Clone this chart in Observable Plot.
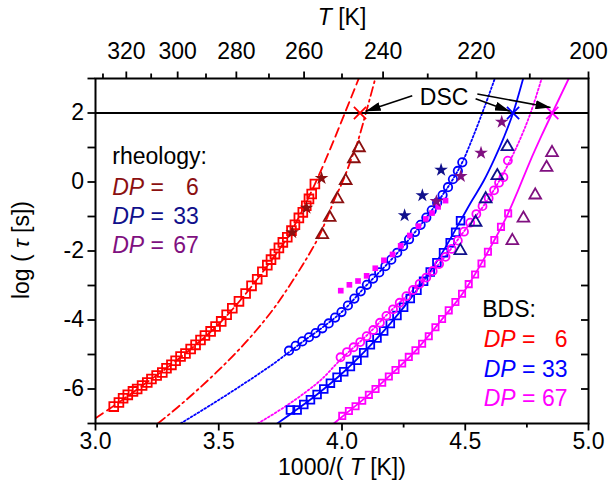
<!DOCTYPE html>
<html><head><meta charset="utf-8">
<script src="https://cdn.jsdelivr.net/npm/d3@7"></script>
<script src="https://cdn.jsdelivr.net/npm/@observablehq/plot@0.6"></script>
<style>body{margin:0;background:#fff;}</style>
</head><body><div id="chart"></div>
<script>
// ---- axis ticks ----
const xMajor = [3.0, 3.5, 4.0, 4.5, 5.0];
const xMinor = [3.25, 3.75, 4.25, 4.75];
const yMajor = [-6, -4, -2, 0, 2];
const yMinor = [-7, -5, -3, -1, 1, 3];
const yRight = [-6, -5, -4, -3, -2, -1, 0, 1, 2];
const tMajor = [320, 300, 280, 260, 240, 220, 200];
const tMinor = [330, 310, 290, 270, 250, 230, 210];

// ---- BDS data [1000/T, log tau] ----
const bds6Squares = [[3.074,-6.51],[3.095,-6.39],[3.112,-6.27],[3.131,-6.17],[3.152,-6.07],[3.169,-6.00],[3.189,-5.90],[3.210,-5.81],[3.227,-5.71],[3.248,-5.61],[3.271,-5.52],[3.288,-5.40],[3.308,-5.30],[3.325,-5.18],[3.345,-5.06],[3.365,-4.97],[3.386,-4.84],[3.406,-4.72],[3.426,-4.58],[3.444,-4.45],[3.467,-4.33],[3.487,-4.19],[3.510,-4.04],[3.532,-3.85],[3.555,-3.66],[3.582,-3.46],[3.609,-3.23],[3.633,-3.01],[3.656,-2.82],[3.677,-2.60],[3.697,-2.41],[3.712,-2.25],[3.728,-2.09],[3.744,-1.91],[3.760,-1.75],[3.778,-1.60],[3.795,-1.41],[3.809,-1.24],[3.825,-1.04],[3.841,-0.88],[3.855,-0.69],[3.866,-0.49],[3.877,-0.35],[3.890,-0.06]];
const bds33Circles = [[3.785,-4.89],[3.812,-4.75],[3.839,-4.62],[3.866,-4.50],[3.893,-4.38],[3.920,-4.24],[3.946,-4.10],[3.972,-3.93],[3.998,-3.77],[4.024,-3.58],[4.050,-3.38],[4.076,-3.17],[4.101,-2.98],[4.126,-2.80],[4.151,-2.62],[4.176,-2.44],[4.200,-2.25],[4.224,-2.05],[4.248,-1.86],[4.272,-1.66],[4.296,-1.45],[4.319,-1.24],[4.342,-1.03],[4.364,-0.82],[4.386,-0.60],[4.408,-0.38],[4.430,-0.15],[4.450,0.08],[4.470,0.32],[4.488,0.57]];
const bds33Squares = [[3.791,-6.61],[3.818,-6.61],[3.845,-6.45],[3.872,-6.31],[3.899,-6.16],[3.926,-6.00],[3.953,-5.83],[3.980,-5.66],[4.007,-5.50],[4.034,-5.35],[4.061,-5.17],[4.088,-4.95],[4.115,-4.72],[4.142,-4.52],[4.169,-4.32],[4.196,-4.10],[4.223,-3.87],[4.250,-3.63],[4.277,-3.38],[4.304,-3.14],[4.331,-2.88],[4.358,-2.61],[4.385,-2.34],[4.412,-2.05],[4.439,-1.76],[4.461,-1.46],[4.481,-1.12]];
const bds67Circles = [[3.994,-5.08],[4.020,-4.93],[4.047,-4.79],[4.074,-4.64],[4.100,-4.47],[4.127,-4.29],[4.154,-4.08],[4.180,-3.88],[4.207,-3.69],[4.234,-3.50],[4.261,-3.31],[4.288,-3.13],[4.315,-2.95],[4.342,-2.77],[4.368,-2.58],[4.394,-2.38],[4.420,-2.17],[4.445,-1.94],[4.470,-1.70],[4.495,-1.44],[4.520,-1.18],[4.545,-0.93],[4.570,-0.70],[4.595,-0.47],[4.617,-0.24],[4.637,-0.02],[4.655,0.14],[4.673,0.62]];
const bds67Squares = [[4.001,-6.78],[4.028,-6.64],[4.055,-6.50],[4.082,-6.34],[4.109,-6.17],[4.136,-6.00],[4.163,-5.82],[4.190,-5.64],[4.217,-5.45],[4.244,-5.26],[4.271,-5.07],[4.298,-4.88],[4.325,-4.69],[4.352,-4.47],[4.379,-4.21],[4.406,-3.97],[4.433,-3.72],[4.460,-3.48],[4.487,-3.24],[4.514,-2.96],[4.540,-2.68],[4.566,-2.36],[4.592,-2.02],[4.618,-1.68],[4.645,-1.30],[4.674,-0.91]];
const bds67Filled = [[3.995,-3.15],[4.030,-2.98],[4.065,-2.87],[4.100,-2.72],[4.135,-2.50],[4.170,-2.27],[4.205,-2.10],[4.238,-1.85],[4.275,-1.55],[4.310,-1.28],[4.340,-1.07],[4.365,-0.90],[4.390,-0.72],[4.420,-0.54]];

// ---- fit curves ----
const fit6Dashed = [[3.0,-6.85],[3.1,-6.36],[3.2,-5.85],[3.3,-5.33],[3.4,-4.76],[3.5,-4.12],[3.6,-3.32],[3.7,-2.40],[3.8,-1.35],[3.89,-0.06],[3.95,0.92],[4.01,1.97],[4.068,3.0]];
const fit6DashDot = [[3.253,-7.0],[3.33,-6.55],[3.41,-6.05],[3.49,-5.52],[3.57,-4.95],[3.65,-4.32],[3.73,-3.60],[3.81,-2.75],[3.87,-2.05],[3.91,-1.53],[3.94,-1.03],[3.97,-0.50],[4.005,0.05],[4.038,0.67],[4.065,1.20],[4.095,1.95],[4.135,3.0]];
const fit33Dotted = [[3.345,-7.0],[3.45,-6.54],[3.55,-6.09],[3.65,-5.62],[3.72,-5.28],[3.78,-4.96],[3.85,-4.58],[3.92,-4.22],[4.0,-3.76],[4.1,-2.99],[4.2,-2.25],[4.3,-1.42],[4.4,-0.46],[4.45,0.08],[4.49,0.60],[4.53,1.28],[4.569,2.0],[4.62,3.0]];
const fit33Solid = [[3.737,-7.0],[3.8,-6.68],[3.9,-6.15],[4.0,-5.55],[4.1,-4.85],[4.2,-4.07],[4.3,-3.17],[4.4,-2.13],[4.481,-1.12],[4.522,-0.60],[4.576,0.05],[4.617,0.65],[4.657,1.30],[4.694,2.0],[4.735,3.0]];
const fit67Dotted = [[3.658,-7.0],[3.75,-6.60],[3.832,-6.20],[3.92,-5.70],[3.994,-5.15],[4.1,-4.45],[4.2,-3.72],[4.3,-3.05],[4.4,-2.32],[4.5,-1.38],[4.6,-0.42],[4.673,0.50],[4.72,1.20],[4.765,2.0],[4.81,3.0]];
const fit67Solid = [[3.967,-7.0],[4.001,-6.80],[4.1,-6.22],[4.2,-5.57],[4.3,-4.88],[4.4,-4.03],[4.5,-3.12],[4.6,-1.92],[4.674,-0.91],[4.711,-0.30],[4.76,0.55],[4.81,1.35],[4.853,2.0],[4.92,3.0]];

// ---- rheology data ----
const rheo6Stars = [[3.798,-1.46],[3.856,-0.75],[3.917,0.11]];
const rheo6Triangles = [[3.920,-1.53],[3.950,-1.03],[3.981,-0.49],[4.015,0.04],[4.048,0.67],[4.069,0.99]];
const rheo33Stars = [[4.254,-0.97],[4.326,-0.39],[4.402,0.35]];
const rheo33Triangles = [[4.480,-1.99],[4.542,-1.17],[4.583,-0.49],[4.630,0.18],[4.671,1.02]];
const rheo67Stars = [[4.383,-0.56],[4.482,0.17],[4.564,0.84],[4.648,1.74]];
const rheo67Triangles = [[4.691,-1.70],[4.736,-1.05],[4.784,-0.38],[4.830,0.42],[4.852,0.85]];

// ---- DSC ----
const dscX = [4.073, 4.694, 4.853];
const dscY = [2, 2, 2];
const dscColors = ["#ff0000", "#0000ff", "#ff00ff"];
const dscLabel = {text: "DSC", x: 4.414, y: 2.455};
const dscArrows = [
  {x1: 4.285, y1: 2.50, x2: 4.096, y2: 2.05},
  {x1: 4.542, y1: 2.41, x2: 4.681, y2: 2.05},
  {x1: 4.549, y1: 2.55, x2: 4.846, y2: 2.16}
];

// ---- legends ----
const rheoTitle = {text: "rheology:", x: 3.068, y: 0.733};
const rheoDP = ["6", "33", "67"];
const rheoColors = ["#8b1010", "#10108b", "#801080"];
const rheoY = [-0.154, -1.003, -1.843];
const rheoX = [3.068, 3.419];
const bdsTitle = {text: "BDS:", x: 4.569, y: -3.71};
const bdsDP = ["6", "33", "67"];
const bdsColors = ["#ff0000", "#0000ff", "#ff00ff"];
const bdsY = [-4.58, -5.43, -6.27];
const bdsX = [4.575, 4.915];

const rows = (pairs) => pairs.map(([x, y]) => ({x, y}));
const FS = 23;
const SW = 1.8;
const frameW = 608 - 95 - 20, frameH = 491 - 78 - 68;

const lineMark = (d, stroke, dash) => Plot.line(rows(d), {x: "x", y: "y", stroke, strokeWidth: 1.8, strokeDasharray: dash, curve: "monotone-x", clip: true});
const openDot = (d, symbol, stroke, r) => Plot.dot(rows(d), {x: "x", y: "y", symbol, stroke, fill: "none", strokeWidth: SW, r});
const filledDot = (d, symbol, fill, r) => Plot.dot(rows(d), {x: "x", y: "y", symbol, fill, stroke: "none", r});

const legendRows = (labels, colors, ys, xs) => labels.map((n, i) => ({n, c: colors[i], y: ys[i], x0: xs[0], x1: xs[1]}));
const rheoRows = legendRows(rheoDP, rheoColors, rheoY, rheoX);
const bdsRows = legendRows(bdsDP, bdsColors, bdsY, bdsX);

const chart = Plot.plot({
  width: 608, height: 491,
  marginLeft: 95, marginRight: 20, marginTop: 78, marginBottom: 68,
  x: {domain: [3, 5], axis: null},
  y: {domain: [-7, 3], axis: null},
  style: {fontFamily: "'Liberation Sans', Arial, sans-serif", fontSize: FS + "px", background: "#fff", color: "#000", overflow: "visible"},
  marks: [
    lineMark(fit6Dashed, "#ff0000", "9,5"),
    lineMark(fit6DashDot, "#ff0000", "9,4,2,4"),
    lineMark(fit33Dotted, "#0000ff", "1.8,2.2"),
    lineMark(fit33Solid, "#0000ff", null),
    lineMark(fit67Dotted, "#ff00ff", "1.8,2.2"),
    lineMark(fit67Solid, "#ff00ff", null),
    openDot(bds6Squares, "square2", "#ff0000", 5.6),
    openDot(bds33Circles, "circle", "#0000ff", 4.2),
    openDot(bds33Squares, "square2", "#0000ff", 4.9),
    openDot(bds67Circles, "circle", "#ff00ff", 4.0),
    openDot(bds67Squares, "square2", "#ff00ff", 4.0),
    filledDot(bds67Filled, "square", "#ff00ff", 3.2),
    filledDot(rheo6Stars, "star", "#8b1010", 4.3),
    openDot(rheo6Triangles, "triangle2", "#8b1010", 5.6),
    filledDot(rheo33Stars, "star", "#10108b", 4.3),
    openDot(rheo33Triangles, "triangle2", "#10108b", 5.6),
    filledDot(rheo67Stars, "star", "#801080", 4.3),
    openDot(rheo67Triangles, "triangle2", "#801080", 5.6),
    Plot.ruleY([2], {stroke: "#000", strokeWidth: 1.8}),
    ...dscX.map((x, i) => Plot.dot([{x, y: dscY[i]}], {x: "x", y: "y", symbol: "times", stroke: dscColors[i], strokeWidth: 1.8, r: 5.6})),
    Plot.link(dscArrows, {x1: "x1", y1: "y1", x2: "x2", y2: "y2", stroke: "#000", strokeWidth: 1.6}),
    Plot.text([dscLabel], {x: "x", y: "y", text: "text", fontSize: FS, fill: "#000", textAnchor: "middle", lineAnchor: "middle"}),
    Plot.text([rheoTitle, bdsTitle], {x: "x", y: "y", text: "text", fontSize: FS, fill: "#000", textAnchor: "start", lineAnchor: "middle"}),
    Plot.text(rheoRows, {x: "x0", y: "y", text: () => "DP =", fill: "c", fontSize: FS, textAnchor: "start", lineAnchor: "middle"}),
    Plot.text(rheoRows, {x: "x1", y: "y", text: "n", fill: "c", fontSize: FS, textAnchor: "end", lineAnchor: "middle"}),
    Plot.text(bdsRows, {x: "x0", y: "y", text: () => "DP =", fill: "c", fontSize: FS, textAnchor: "start", lineAnchor: "middle"}),
    Plot.text(bdsRows, {x: "x1", y: "y", text: "n", fill: "c", fontSize: FS, textAnchor: "end", lineAnchor: "middle"}),
    Plot.frame({stroke: "#000", strokeWidth: 2}),
    // bottom axis
    Plot.axisX({anchor: "bottom", ticks: xMajor, tickSize: 7.5, tickPadding: 2, tickFormat: d3.format(".1f"), label: null, fontSize: FS, strokeWidth: 1.8}),
    Plot.tickX(xMinor, {x: d => d, insetTop: frameH, insetBottom: -4.5, stroke: "#000", strokeWidth: 1.8}),
    // top axis (temperature)
    Plot.axisX({anchor: "top", ticks: tMajor.map(t => 1000 / t), tickSize: 7.5, tickPadding: 12, tickFormat: d => String(Math.round(1000 / d)), label: null, fontSize: FS, strokeWidth: 1.8}),
    Plot.tickX(tMinor.map(t => 1000 / t), {x: d => d, insetBottom: frameH, insetTop: -4.5, stroke: "#000", strokeWidth: 1.8}),
    // left axis
    Plot.axisY({anchor: "left", ticks: yMajor, tickSize: 7.5, tickPadding: 4, tickFormat: d => String(d), label: null, fontSize: FS, strokeWidth: 1.8}),
    Plot.tickY(yMinor, {y: d => d, insetRight: frameW, insetLeft: -7.5, stroke: "#000", strokeWidth: 1.8}),
    // right inward ticks
    Plot.tickY(yRight, {y: d => d, insetLeft: frameW - 7, stroke: "#000", strokeWidth: 1.8})
  ]
});

document.getElementById("chart").appendChild(chart);

const svg = d3.select(chart);
// italic "DP" in legend entries
svg.selectAll("text").each(function () {
  if (this.textContent === "DP =") {
    const el = d3.select(this);
    el.text(null);
    el.append("tspan").attr("font-style", "italic").text("DP");
    el.append("tspan").text(" =");
  }
});
// filled arrow heads
const defs = svg.append("defs");
defs.append("marker").attr("id", "dscHead").attr("viewBox", "0 0 15 9").attr("refX", 15).attr("refY", 4.5)
  .attr("markerWidth", 15).attr("markerHeight", 9).attr("markerUnits", "userSpaceOnUse").attr("orient", "auto")
  .append("path").attr("d", "M0,0L15,4.5L0,9Z").attr("fill", "#000");
svg.selectAll('g[aria-label="link"] path').attr("marker-end", "url(#dscHead)");

// axis titles with italic symbols
function title(parts, attrs) {
  const t = svg.append("text").attr("font-size", FS).attr("fill", "#000").attr("text-anchor", "middle");
  for (const [k, v] of Object.entries(attrs)) t.attr(k, v);
  for (const [s, it] of parts) t.append("tspan").attr("font-style", it ? "italic" : null).text(s);
}
title([["T", true], [" [K]", false]], {x: 342, y: 25});
title([["1000/( ", false], ["T", true], [" [K])", false]], {x: 342, y: 475});
title([["log ( ", false], ["τ", true], [" [s])", false]], {transform: "translate(29,250) rotate(-90)"});
</script></body></html>
